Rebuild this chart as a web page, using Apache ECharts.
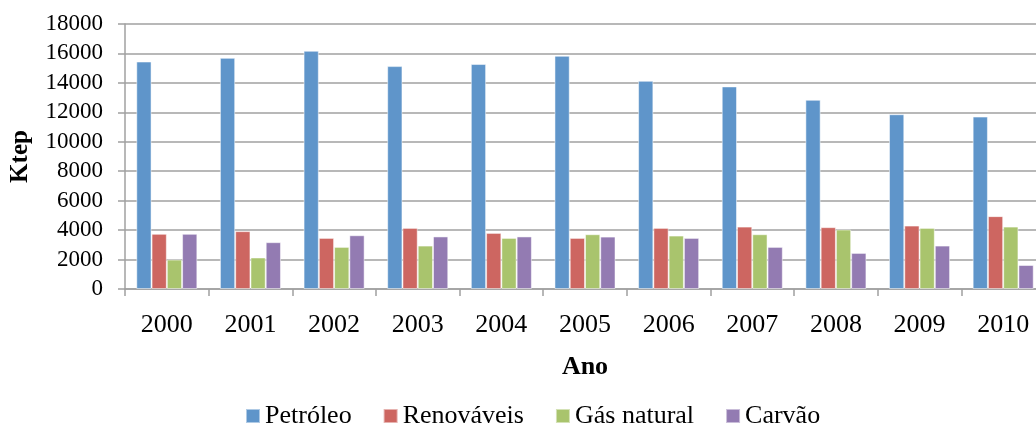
<!DOCTYPE html>
<html>
<head>
    <meta charset="utf-8">
    <title></title>
    <script src="https://cdn.jsdelivr.net/npm/echarts@6/dist/echarts.min.js"></script>
    <style>
        html, body { margin: 0; padding: 0; background: #fff; }
        #main { width: 1036px; height: 424px; }
    </style>
</head>
<body>
<div id="main"></div>
<script type="text/javascript">
    // 数据
    var anos = ['2000', '2001', '2002', '2003', '2004', '2005', '2006', '2007', '2008', '2009', '2010'];
    var petroleo = [15450, 15700, 16180, 15140, 15280, 15840, 14140, 13760, 12850, 11870, 11710];
    var renovaveis = [3750, 3930, 3470, 4150, 3810, 3470, 4150, 4240, 4200, 4310, 4950];
    var gasNatural = [2000, 2140, 2860, 2950, 3470, 3720, 3630, 3720, 4040, 4150, 4240];
    var carvao = [3750, 3180, 3650, 3570, 3570, 3560, 3470, 2860, 2450, 2950, 1630];

    var fonte = 'Liberation Serif';
    var cinza = '#a0a0a0';

    var chart = echarts.init(document.getElementById('main'));

    function serie(nome, dados, cor) {
        return {
            name: nome,
            type: 'bar',
            data: dados,
            barGap: '0%',
            barCategoryGap: '27%',
            itemStyle: { color: cor, borderColor: 'rgba(255,255,255,0.5)', borderWidth: 1 }
        };
    }

    var option = {
        animation: false,
        textStyle: { fontFamily: fonte },
        grid: { left: 125, right: -9, top: 24, bottom: 135, outerBoundsMode: 'none' },
        legend: {
            top: 398,
            left: 240,
            itemWidth: 14,
            itemHeight: 14,
            itemGap: 31,
            icon: 'rect',
            textStyle: { fontFamily: fonte, fontSize: 26, color: '#000' },
            data: ['Petróleo', 'Renováveis', 'Gás natural', 'Carvão']
        },
        xAxis: {
            type: 'category',
            data: anos,
            name: 'Ano',
            nameLocation: 'middle',
            nameGap: 65,
            nameTextStyle: { fontFamily: fonte, fontSize: 26, fontWeight: 'bold', color: '#000' },
            axisLine: { lineStyle: { color: cinza, width: 1.5 } },
            axisTick: { show: true, length: 7, lineStyle: { color: cinza, width: 1.5 } },
            axisLabel: { fontFamily: fonte, fontSize: 26, color: '#000', margin: 23 }
        },
        yAxis: {
            type: 'value',
            min: 0,
            max: 18000,
            interval: 2000,
            name: 'Ktep',
            nameLocation: 'middle',
            nameGap: 92,
            nameTextStyle: { fontFamily: fonte, fontSize: 25, fontWeight: 'bold', color: '#000' },
            axisLine: { show: true, lineStyle: { color: cinza, width: 1.5 } },
            axisTick: { show: true, length: 7, lineStyle: { color: cinza, width: 1.5 } },
            axisLabel: {
                fontFamily: fonte, fontSize: 23, color: '#000', margin: 22,
                formatter: function (v) { return String(v); }
            },
            splitLine: { lineStyle: { color: cinza, width: 1.5 } }
        },
        series: [
            serie('Petróleo', petroleo, '#5f95ca'),
            serie('Renováveis', renovaveis, '#cd6661'),
            serie('Gás natural', gasNatural, '#a9c46d'),
            serie('Carvão', carvao, '#937bb2')
        ]
    };
    chart.setOption(option);
</script>
</body>
</html>
